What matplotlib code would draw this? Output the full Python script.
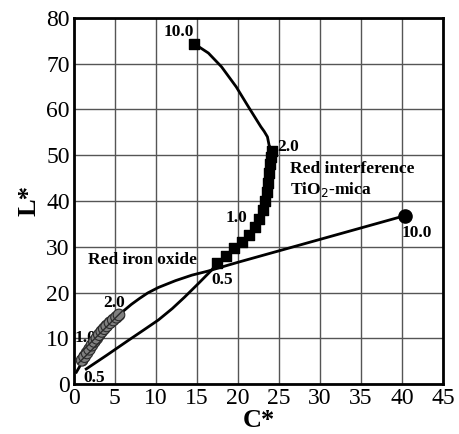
import matplotlib
matplotlib.use("Agg")
import matplotlib.pyplot as plt
import numpy as np

plt.rcParams["font.family"] = ["Liberation Serif", "DejaVu Serif"]

# Red iron oxide: measured points (circles) and the trend line
iron_c = [1.0, 1.3, 1.6, 1.9, 2.2, 2.5, 2.8, 3.1, 3.4, 3.7, 4.0, 4.4, 4.8, 5.2, 5.5]
iron_l = [5.2, 6.0, 6.8, 7.6, 8.5, 9.3, 10.0, 10.8, 11.5, 12.1, 12.7, 13.4, 14.0, 14.6, 15.1]
iron_line_c = [0.3, 2.0, 4.0, 5.0, 6.0, 7.0, 8.0, 9.0, 10.3, 12.4, 14.4, 16.4, 17.7, 20.0, 25.0, 30.0, 35.0, 40.4]
iron_line_l = [2.6, 7.8, 12.6, 14.3, 15.9, 17.4, 18.7, 19.9, 21.1, 22.6, 23.8, 24.7, 25.4, 26.6, 29.1, 31.6, 34.1, 36.8]
iron_end = (40.4, 36.8)

# Red interference TiO2-mica: squares and the trend line
mica_c = [17.5, 18.5, 19.5, 20.5, 21.3, 22.1, 22.6, 23.0, 23.3, 23.5, 23.7, 23.8, 23.9, 24.0, 24.1]
mica_l = [26.5, 28.0, 29.7, 31.0, 32.6, 34.2, 36.0, 38.0, 40.0, 42.0, 44.0, 46.0, 48.0, 49.5, 51.0]
mica_low_c = [1.5, 4.0, 6.6, 8.5, 10.3, 12.0, 13.5, 15.2, 16.8, 17.5]
mica_low_l = [3.3, 6.3, 9.5, 11.8, 14.0, 16.5, 19.0, 22.0, 24.9, 26.5]
mica_top_c = [24.1, 23.8, 23.6, 23.2, 22.8, 21.3, 19.8, 18.0, 16.4, 14.7]
mica_top_l = [51.0, 52.2, 54.0, 55.2, 56.2, 60.5, 64.9, 69.3, 72.3, 74.3]
mica_end = (14.7, 74.3)

fig = plt.figure(figsize=(4.59, 4.34), dpi=100)
ax = fig.add_axes([0.161, 0.115, 0.804, 0.844])

ax.set_xlim(0, 45)
ax.set_ylim(0, 80)
ax.set_xticks(np.arange(0, 46, 5))
ax.set_yticks(np.arange(0, 81, 10))
ax.grid(True, color="#555555", linewidth=1.0)
ax.set_axisbelow(True)
ax.tick_params(length=0, labelsize=17, pad=3)
for s in ax.spines.values():
    s.set_linewidth(2)

# lines
ax.plot(iron_line_c, iron_line_l, color="black", lw=2, zorder=3)
ax.plot(mica_low_c, mica_low_l, color="black", lw=2, zorder=3)
ax.plot(mica_c, mica_l, color="black", lw=2, zorder=3)
ax.plot(mica_top_c, mica_top_l, color="black", lw=2, zorder=3)

# markers
ax.scatter(iron_c, iron_l, s=70, facecolor="#808080", edgecolor="#2a2a2a",
           linewidths=0.8, hatch="////", zorder=4)
ax.scatter([iron_end[0]], [iron_end[1]], s=90, color="black", zorder=4)
ax.scatter(mica_c, mica_l, s=60, marker="s", color="black", zorder=4)
ax.scatter([mica_end[0]], [mica_end[1]], s=60, marker="s", color="black", zorder=4)

bold = dict(fontsize=12.5, fontweight="bold")
# iron oxide labels
ax.text(0.1, 10.0, "1.0", ha="left", va="center", **bold)
ax.text(3.6, 17.7, "2.0", ha="left", va="center", **bold)
ax.text(1.1, 1.4, "0.5", ha="left", va="center", **bold)
ax.text(40.0, 33.0, "10.0", ha="left", va="center", **bold)
ax.text(1.7, 27.1, "Red iron oxide", ha="left", va="center", **bold)
# mica labels
ax.text(14.6, 76.8, "10.0", ha="right", va="center", **bold)
ax.text(24.8, 51.8, "2.0", ha="left", va="center", **bold)
ax.text(18.5, 36.3, "1.0", ha="left", va="center", **bold)
ax.text(16.8, 22.7, "0.5", ha="left", va="center", **bold)
ax.text(26.3, 47.0, "Red interference", ha="left", va="center", **bold)
ax.text(26.3, 42.4, "TiO$_2$-mica", ha="left", va="center", **bold)

ax.set_xlabel("C*", fontsize=19, fontweight="bold", labelpad=0)
ax.set_ylabel("L*", fontsize=19, fontweight="bold", labelpad=4)

fig.savefig("out.png", dpi=100)
